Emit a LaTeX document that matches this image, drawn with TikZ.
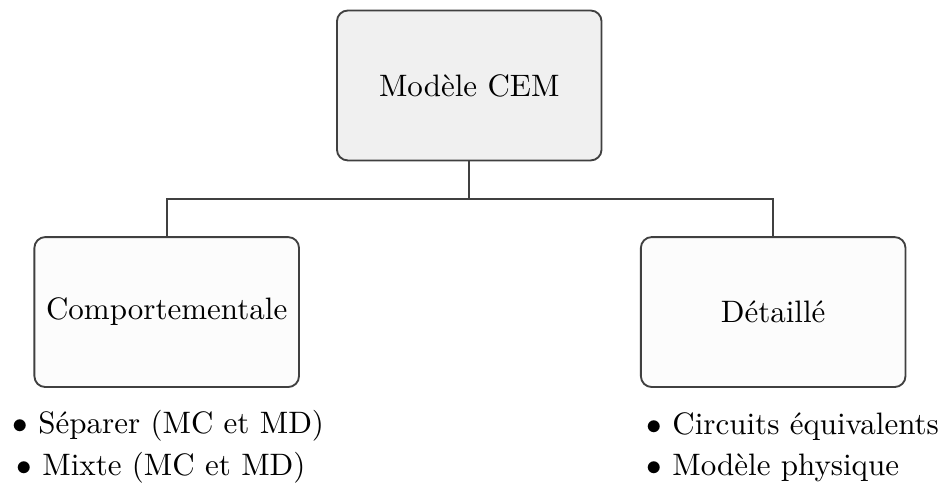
\documentclass[tikz,border=0pt]{standalone}
\usepackage{fontspec}
\usepackage{xcolor}
\usepackage{tikz}
\usetikzlibrary{positioning,calc}

\begin{document}
\begin{tikzpicture}[
  modbox/.style={rectangle, rounded corners=3.5pt, draw=black!75, line width=0.6pt,
                 minimum width=3.0cm, minimum height=1.7cm, align=center},
  item/.style={anchor=west, inner sep=0pt},
  tree/.style={draw=black!75, line width=0.6pt}
]
  \useasboundingbox (0,0) rectangle (10.646,5.601);
  \node[modbox, fill=black!6] (cem) at (5.32,4.632) {Modèle CEM};
  \node[modbox, fill=black!1] (comp) at (1.89,2.063) {Comportementale};
  \node[modbox, fill=black!1, right=3.855cm of comp] (detail) {Détaillé};

  \draw[tree] (cem.south) -- ++(0,-0.43) -| (comp.north);
  \draw[tree] (cem.south) -- ++(0,-0.43) -| (detail.north);

  \node[item] (sep) at (0.136,0.77) {$\bullet$ Séparer (MC et MD)};
  \node[item] (mix) at (0.181,0.295) {$\bullet$ Mixte (MC et MD)};
  \node[item] (circ) at (7.324,0.77) {$\bullet$ Circuits équivalents};
  \node[item] (phys) at (7.324,0.295) {$\bullet$ Modèle physique};
\end{tikzpicture}
\end{document}
